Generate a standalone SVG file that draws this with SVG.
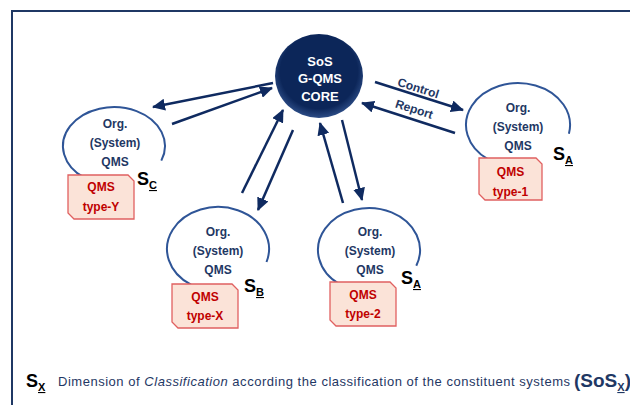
<svg xmlns="http://www.w3.org/2000/svg" width="630" height="405" viewBox="0 0 630 405">
<style>
.frame{fill:none;stroke:#1F3864;stroke-width:2}
.arc{fill:none;stroke:#2F5597;stroke-width:2}
.box{fill:#FBE3D8;stroke:#E06060;stroke-width:1.3}
.nt{font-family:"Liberation Sans",Arial,sans-serif;font-size:12px;font-weight:bold;fill:#1F3864;text-anchor:middle}
.bt{font-family:"Liberation Sans",Arial,sans-serif;font-size:12px;font-weight:bold;fill:#C00000;text-anchor:middle}
.ct{font-family:"Liberation Sans",Arial,sans-serif;font-size:13px;font-weight:bold;fill:#FFFFFF;text-anchor:middle}
.s{font-family:"Liberation Sans",Arial,sans-serif;font-size:18px;font-weight:bold;fill:#000000}
.sub{font-size:11px;text-decoration:underline}
.con line{stroke:#0F2A60;stroke-width:2.5;marker-end:url(#ah)}
.lbl{font-family:"Liberation Sans",Arial,sans-serif;font-size:12px;font-weight:bold;fill:#1F3864;text-anchor:middle}
.leg{font-family:"Liberation Sans",Arial,sans-serif;font-size:13px;fill:#1F3864}
</style>
<defs>
<marker id="ah" markerWidth="14" markerHeight="12" refX="12" refY="6" orient="auto" markerUnits="userSpaceOnUse">
<path d="M0,0 L13,6 L0,12 Z" fill="#0F2A60"/>
</marker>
<radialGradient id="cg" cx="0.5" cy="0.45" r="0.55">
<stop offset="0.8" stop-color="#0C2659"/>
<stop offset="1" stop-color="#2C4C86"/>
</radialGradient>
</defs>
<rect width="630" height="405" fill="#FFFFFF"/>
<path class="frame" d="M12 405 V11 H630"/>

<g id="connectors" class="con">
<line x1="273" y1="83" x2="153" y2="107"/>
<line x1="172" y1="124" x2="272" y2="88"/>
<line x1="375" y1="82" x2="463" y2="110"/>
<line x1="455" y1="133" x2="362" y2="103"/>
<line x1="242" y1="193" x2="283" y2="110"/>
<line x1="293" y1="130" x2="258" y2="210"/>
<line x1="343" y1="203" x2="320" y2="123"/>
<line x1="342" y1="120" x2="362" y2="200"/>
<text class="lbl" transform="translate(417,92) rotate(17.6)">Control</text>
<text class="lbl" transform="translate(413,113) rotate(17.6)">Report</text>
</g>

<g id="core">
<ellipse cx="319" cy="76" rx="44" ry="42" fill="url(#cg)"/>
<text class="ct" x="320" y="66">SoS</text>
<text class="ct" x="320" y="83">G-QMS</text>
<text class="ct" x="320" y="101">CORE</text>
</g>

<g id="node-c">
<path class="arc" d="M84.7 178 A51 39 0 1 1 161.3 160.6"/>
<text class="nt" x="115" y="128">Org.</text>
<text class="nt" x="115" y="147">(System)</text>
<text class="nt" x="115" y="166">QMS</text>
<path class="box" d="M68 175 H128 L134 181 V219 H74 L68 213 Z"/>
<text class="bt" x="101" y="191">QMS</text>
<text class="bt" x="101" y="211">type-Y</text>
<text class="s" x="137" y="185">S<tspan class="sub" dy="4">C</tspan></text>
</g>

<g id="node-a1">
<path class="arc" d="M488.2 159.4 A52 42 0 1 1 568.9 133.7"/>
<text class="nt" x="518" y="112">Org.</text>
<text class="nt" x="518" y="131">(System)</text>
<text class="nt" x="518" y="150">QMS</text>
<path class="box" d="M479 158 H536 L542 164 V200 H485 L479 194 Z"/>
<text class="bt" x="510.5" y="176">QMS</text>
<text class="bt" x="510.5" y="196">type-1</text>
<text class="s" x="553" y="160">S<tspan class="sub" dy="4">A</tspan></text>
</g>

<g id="node-b">
<path class="arc" d="M191 284.6 A51 42 0 1 1 266.5 262"/>
<text class="nt" x="218" y="236">Org.</text>
<text class="nt" x="218" y="255">(System)</text>
<text class="nt" x="218" y="274">QMS</text>
<path class="box" d="M172 284 H232 L238 290 V328 H178 L172 322 Z"/>
<text class="bt" x="205" y="301">QMS</text>
<text class="bt" x="205" y="320">type-X</text>
<text class="s" x="244" y="292">S<tspan class="sub" dy="4">B</tspan></text>
</g>

<g id="node-a2">
<path class="arc" d="M339.7 284.4 A51 42 0 1 1 416.3 265.7"/>
<text class="nt" x="370" y="236">Org.</text>
<text class="nt" x="370" y="255">(System)</text>
<text class="nt" x="370" y="274">QMS</text>
<path class="box" d="M330 282 H390 L396 288 V326 H336 L330 320 Z"/>
<text class="bt" x="363" y="299">QMS</text>
<text class="bt" x="363" y="318">type-2</text>
<text class="s" x="401" y="284">S<tspan class="sub" dy="4">A</tspan></text>
</g>

<g id="legend">
<text class="s" x="26" y="387">S<tspan class="sub" dy="4">X</tspan></text>
<text class="leg" x="58" y="386" textLength="512" lengthAdjust="spacing">Dimension of <tspan font-style="italic">Classification</tspan> according the classification of the constituent systems</text>
<text class="s" x="574" y="387" style="fill:#1F3864;font-size:19px">(SoS<tspan class="sub" dy="4">X</tspan><tspan dy="-4">)</tspan></text>
</g>
</svg>
